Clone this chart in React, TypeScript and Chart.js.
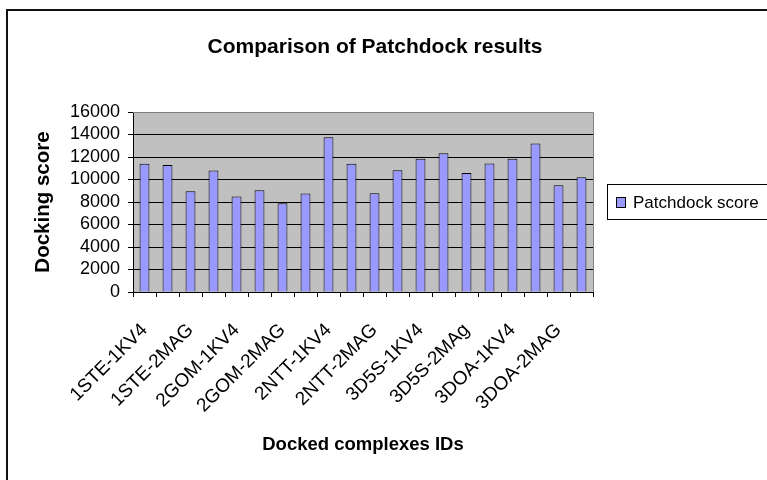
import React, { useEffect, useRef } from "react";
import { Chart, registerables } from "chart.js";

Chart.register(...registerables);

// Category labels (only every other label is shown in the reference)
const categories: string[] = [
  "1STE-1KV4", "", "1STE-2MAG", "",
  "2GOM-1KV4", "", "2GOM-2MAG", "",
  "2NTT-1KV4", "", "2NTT-2MAG", "",
  "3D5S-1KV4", "", "3D5S-2MAg", "",
  "3DOA-1KV4", "", "3DOA-2MAG", "",
];

const patchdockScores: number[] = [
  11400, 11300, 8950, 10800, 8500, 9050, 7900, 8750, 13750, 11400,
  8770, 10830, 11840, 12340, 10570, 11420, 11840, 13200, 9480, 10210,
];

const yMin = 0;
const yMax = 16000;
const yStep = 2000;

const chartTitle = "Comparison of Patchdock results";
const seriesName = "Patchdock score";
const xTitle = "Docked complexes IDs";
const yTitle = "Docking score";

const FONT = "'Liberation Sans', Arial, sans-serif";
const BAR_FILL = "#9999FF";

const decorPlugin = {
  id: "decor",
  beforeDraw(chart: any) {
    const { ctx, chartArea } = chart;
    ctx.save();
    ctx.fillStyle = "#ffffff";
    ctx.fillRect(0, 0, chart.width, chart.height);
    ctx.fillStyle = "#C0C0C0";
    ctx.fillRect(chartArea.left, chartArea.top, chartArea.right - chartArea.left, chartArea.bottom - chartArea.top);
    // outer frame (left and top visible)
    ctx.strokeStyle = "#111";
    ctx.lineWidth = 2;
    ctx.beginPath();
    ctx.moveTo(7, chart.height);
    ctx.lineTo(7, 10);
    ctx.lineTo(chart.width, 10);
    ctx.stroke();
    ctx.restore();
  },
  beforeDatasetsDraw(chart: any) {
    const { ctx, chartArea } = chart;
    ctx.save();
    ctx.strokeStyle = "#808080";
    ctx.lineWidth = 1;
    ctx.beginPath();
    ctx.moveTo(chartArea.left, Math.round(chartArea.top) + 0.5);
    ctx.lineTo(Math.round(chartArea.right) + 0.5, Math.round(chartArea.top) + 0.5);
    ctx.lineTo(Math.round(chartArea.right) + 0.5, chartArea.bottom);
    ctx.stroke();
    ctx.restore();
  },
  afterDraw(chart: any) {
    const { ctx } = chart;
    ctx.save();
    // title
    ctx.fillStyle = "#000";
    ctx.font = `bold 21px ${FONT}`;
    ctx.textAlign = "center";
    ctx.textBaseline = "alphabetic";
    ctx.fillText(chartTitle, 375, 53);
    // legend box
    ctx.fillStyle = "#fff";
    ctx.fillRect(607.5, 184.5, 170, 35);
    ctx.strokeStyle = "#000";
    ctx.lineWidth = 1;
    ctx.strokeRect(607.5, 184.5, 170, 35);
    const ds = chart.data.datasets[0];
    ctx.fillStyle = ds.backgroundColor;
    ctx.fillRect(616.5, 197.5, 9, 10);
    ctx.strokeStyle = "#000";
    ctx.strokeRect(616.5, 197.5, 9, 10);
    ctx.fillStyle = "#000";
    ctx.font = `17px ${FONT}`;
    ctx.textAlign = "left";
    ctx.fillText(ds.label, 633, 208);
    ctx.restore();
  },
};

export default function App() {
  const canvasRef = useRef<HTMLCanvasElement | null>(null);

  useEffect(() => {
    if (!canvasRef.current) return;
    const chart = new Chart(canvasRef.current, {
      type: "bar",
      data: {
        labels: categories,
        datasets: [
          {
            label: seriesName,
            data: patchdockScores,
            backgroundColor: BAR_FILL,
            borderColor: "#000000",
            borderWidth: 1,
            barPercentage: 0.43,
            categoryPercentage: 1.0,
          },
        ],
      },
      options: {
        responsive: false,
        animation: false,
        devicePixelRatio: 1,
        layout: { padding: { top: 112, right: 174, left: 0, bottom: 0 } },
        plugins: {
          legend: { display: false },
          title: { display: false },
          tooltip: { enabled: false },
        },
        scales: {
          x: {
            afterFit(scale: any) {
              scale.height = 188;
            },
            grid: {
              offset: true,
              drawOnChartArea: false,
              drawTicks: true,
              tickLength: 5,
              color: "#000",
            },
            border: { display: true, color: "#000", width: 1 },
            ticks: {
              autoSkip: false,
              minRotation: 45,
              maxRotation: 45,
              padding: 22,
              color: "#000",
              font: { family: FONT, size: 19 },
            },
            title: {
              display: true,
              text: xTitle,
              color: "#000",
              font: { family: FONT, size: 18.5, weight: "bold" },
              padding: { top: 4, bottom: 24 },
            },
          },
          y: {
            min: yMin,
            max: yMax,
            afterFit(scale: any) {
              scale.width = 133;
            },
            grid: {
              drawTicks: true,
              tickLength: 5,
              color: (c: any) => (c.tick && c.tick.value === yMax ? "#808080" : "#000"),
              tickColor: "#000",
            },
            border: { display: true, color: "#000", width: 1 },
            ticks: {
              stepSize: yStep,
              autoSkip: false,
              padding: 8,
              color: "#000",
              font: { family: FONT, size: 18 },
              callback: (v: any) => String(v),
            },
            title: {
              display: true,
              text: yTitle,
              color: "#000",
              font: { family: FONT, size: 20.5, weight: "bold" },
              padding: { top: 31, bottom: 4 },
            },
          },
        },
      },
      plugins: [decorPlugin],
    });
    return () => chart.destroy();
  }, []);

  return (
    <div style={{ position: "absolute", left: 0, top: 0, width: 767, height: 480, background: "#fff" }}>
      <canvas ref={canvasRef} width={767} height={480} />
    </div>
  );
}
